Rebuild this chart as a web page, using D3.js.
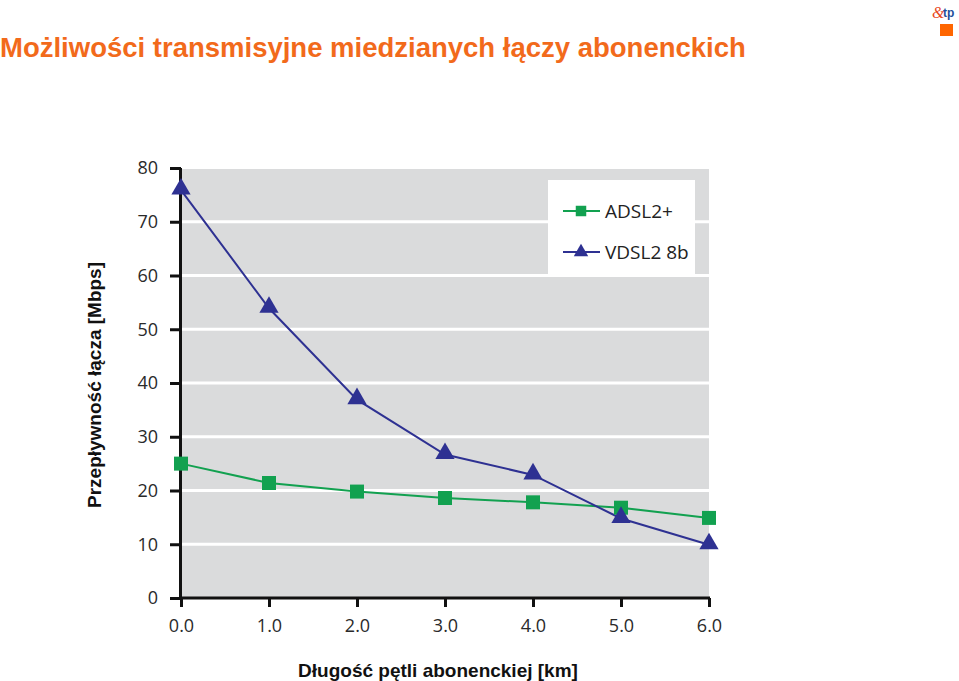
<!DOCTYPE html>
<html>
<head>
<meta charset="utf-8">
<script src="https://cdn.jsdelivr.net/npm/d3@7"></script>
<style>
  body { margin: 0; background: #fff; }
  .tick text { font-family: "Open Sans", "DejaVu Sans", sans-serif; fill: #2a2a2a; }
</style>
</head>
<body>
<div id="graphic"></div>
<script>
// distances (km) and throughput (Mbps)
var distances = [0, 1, 2, 3, 4, 5, 6];
var adslValues = [25, 21.4, 19.8, 18.6, 17.8, 16.8, 14.9];
var vdslValues = [75.9, 53.9, 36.9, 26.7, 22.9, 14.8, 9.9];
var seriesNames = ["ADSL2+", "VDSL2 8b"];
var yTicks = [0, 10, 20, 30, 40, 50, 60, 70, 80];
var xTicks = [0, 1, 2, 3, 4, 5, 6];

var w = 959, h = 681;
var svg = d3.select("#graphic").append("svg")
    .attr("width", w).attr("height", h);

// title
svg.append("text")
   .attr("x", 0).attr("y", 57)
   .style("font-family", "Liberation Sans, Arial, sans-serif")
   .style("font-weight", "bold")
   .style("font-size", "27.5px")
   .style("fill", "#f26a1b")
   .text("Możliwości transmisyjne miedzianych łączy abonenckich");

// small logo in the corner
svg.append("text")
   .attr("x", 932).attr("y", 18)
   .style("font-family", "Liberation Serif, serif")
   .style("font-size", "16px").style("font-style", "italic")
   .style("fill", "#e8491d").text("&");
svg.append("text")
   .attr("x", 943).attr("y", 17)
   .style("font-family", "Liberation Sans, Arial, sans-serif")
   .style("font-size", "12px").style("font-weight", "bold")
   .style("fill", "#1f4f9a").text("tp");
svg.append("rect")
   .attr("x", 940).attr("y", 24).attr("width", 13).attr("height", 12)
   .attr("fill", "#ff6600");

var plotLeft = 181, plotRight = 709, plotTop = 168, plotBottom = 598;
var xScale = d3.scaleLinear().domain([0, 6]).range([plotLeft, plotRight]);
var yScale = d3.scaleLinear().domain([0, 80]).range([plotBottom, plotTop]);

// plot background
svg.append("rect")
   .attr("x", plotLeft).attr("y", yScale(80) + 1)
   .attr("width", xScale(6) - plotLeft).attr("height", plotBottom - yScale(80) - 1)
   .attr("fill", "#dadbdc");

// gridlines
svg.append("g").selectAll("line")
   .data(yTicks.filter(function(d){ return d > 0 && d < 80; }))
   .enter().append("line")
   .attr("x1", plotLeft).attr("x2", xScale(6))
   .attr("y1", function(d){ return yScale(d); })
   .attr("y2", function(d){ return yScale(d); })
   .attr("stroke", "#fff").attr("stroke-width", 3);

// legend box
var lg = svg.append("g");
lg.append("rect")
  .attr("x", 548).attr("y", 180).attr("width", 147).attr("height", 95)
  .attr("fill", "#fff");

// axes
var yAxis = svg.append("g")
   .attr("transform", "translate(" + plotLeft + ",0)")
   .call(d3.axisLeft(yScale).tickValues(yTicks).tickSize(11).tickPadding(12)
         .tickFormat(d3.format("d")));
var xAxis = svg.append("g")
   .attr("transform", "translate(0," + plotBottom + ")")
   .call(d3.axisBottom(xScale).tickValues(xTicks).tickSize(9).tickPadding(12)
         .tickFormat(d3.format(".1f")));
[yAxis, xAxis].forEach(function(a){
  a.select(".domain").attr("stroke", "#111").attr("stroke-width", 3);
  a.selectAll(".tick line").attr("stroke", "#111").attr("stroke-width", 3);
  a.selectAll(".tick text").style("font-size", "18px");
});
yAxis.select(".domain").attr("d", "M-0.5," + plotTop + "V" + (plotBottom + 1));
xAxis.select(".domain").attr("d", "M" + plotLeft + ",0H" + (plotRight + 1));

var line = d3.line()
   .x(function(d, i){ return xScale(distances[i]); })
   .y(function(d){ return yScale(d); });

var green = "#12a150", blue = "#2e3192";

svg.append("path").datum(adslValues)
   .attr("d", line).attr("fill", "none")
   .attr("stroke", green).attr("stroke-width", 2);
svg.append("path").datum(vdslValues)
   .attr("d", line).attr("fill", "none")
   .attr("stroke", blue).attr("stroke-width", 2);

var sq = d3.symbol().type(d3.symbolSquare).size(196);
var tri = d3.symbol().type(d3.symbolTriangle).size(160);

svg.append("g").selectAll("path")
   .data(adslValues).enter().append("path")
   .attr("d", sq)
   .attr("transform", function(d, i){
     return "translate(" + xScale(distances[i]) + "," + yScale(d) + ")"; })
   .attr("fill", green);
svg.append("g").selectAll("path")
   .data(vdslValues).enter().append("path")
   .attr("d", tri)
   .attr("transform", function(d, i){
     return "translate(" + xScale(distances[i]) + "," + (yScale(d) - 1) + ")"; })
   .attr("fill", blue);

// legend entries
var colors = [green, blue];
var symbols = [d3.symbol().type(d3.symbolSquare).size(110), d3.symbol().type(d3.symbolTriangle).size(90)];
seriesNames.forEach(function(name, i){
  var y = 211 + i * 41;
  lg.append("line").attr("x1", 563).attr("x2", 600)
    .attr("y1", y).attr("y2", y)
    .attr("stroke", colors[i]).attr("stroke-width", 2);
  lg.append("path").attr("d", symbols[i])
    .attr("transform", "translate(581," + y + ")")
    .attr("fill", colors[i]);
  lg.append("text").attr("x", 605).attr("y", y + 7)
    .style("font-family", "Open Sans, DejaVu Sans, sans-serif")
    .style("font-size", "19px").style("fill", "#222")
    .text(name);
});

// axis titles
svg.append("text")
   .attr("transform", "translate(101,385) rotate(-90)")
   .attr("text-anchor", "middle")
   .style("font-family", "Liberation Sans, Arial, sans-serif")
   .style("font-weight", "bold").style("font-size", "19px")
   .style("fill", "#111")
   .text("Przepływność łącza [Mbps]");
svg.append("text")
   .attr("x", 438).attr("y", 677)
   .attr("text-anchor", "middle")
   .style("font-family", "Liberation Sans, Arial, sans-serif")
   .style("font-weight", "bold").style("font-size", "19px")
   .style("fill", "#111")
   .text("Długość pętli abonenckiej [km]");
</script>
</body>
</html>
